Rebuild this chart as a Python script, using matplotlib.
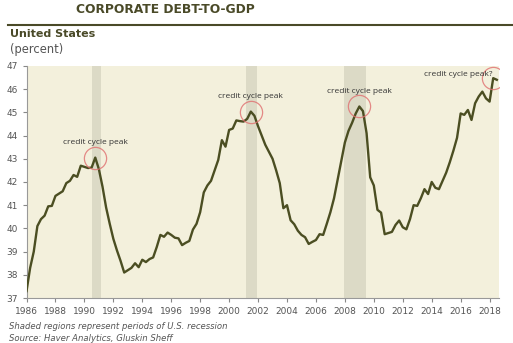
import matplotlib
matplotlib.use('Agg')
import matplotlib.pyplot as plt
import numpy as np

# ── Data (quarterly) ─────────────────────────────────────────────────────────
years = np.arange(1986.0, 2018.51, 0.25)
debt_to_gdp = [
    37.3, 38.3, 39.0, 40.1, 40.4, 40.55, 40.95, 40.97,          # 1986-87
    41.4, 41.5, 41.6, 41.95, 42.05, 42.3, 42.22, 42.7,          # 1988-89
    42.65, 42.6, 42.62, 43.05, 42.55, 41.8, 40.9, 40.2,         # 1990-91
    39.55, 39.05, 38.6, 38.1, 38.2, 38.3, 38.5, 38.33,          # 1992-93
    38.65, 38.55, 38.68, 38.75, 39.2, 39.72, 39.64, 39.82,      # 1994-95
    39.72, 39.6, 39.57, 39.28, 39.38, 39.46, 39.95, 40.2,       # 1996-97
    40.7, 41.55, 41.85, 42.05, 42.5, 42.95, 43.8, 43.52,        # 1998-99
    44.24, 44.3, 44.65, 44.62, 44.6, 44.72, 45.03, 44.85,       # 2000-01
    44.4, 44.0, 43.6, 43.3, 43.0, 42.5, 41.95, 40.87,           # 2002-03
    41.0, 40.35, 40.18, 39.9, 39.72, 39.62, 39.33, 39.42,       # 2004-05
    39.5, 39.75, 39.72, 40.2, 40.7, 41.3, 42.1, 42.9,           # 2006-07
    43.7, 44.2, 44.55, 44.95, 45.25, 45.05, 44.1, 42.2,         # 2008-09
    41.85, 40.8, 40.68, 39.75, 39.8, 39.85, 40.15, 40.34,       # 2010-11
    40.05, 39.96, 40.4, 41.0, 40.97, 41.3, 41.69, 41.48,        # 2012-13
    42.0, 41.75, 41.69, 42.05, 42.4, 42.85, 43.35, 43.9,        # 2014-15
    44.95, 44.89, 45.1, 44.67, 45.39, 45.68, 45.89, 45.6,       # 2016-17
    45.46, 46.47, 46.4,                                         # 2018
]

recessions = [(1990.55, 1991.15), (2001.2, 2001.9), (2007.95, 2009.45)]

peak_x = [1990.75, 2001.5, 2009.0, 2018.25]
peak_y = [43.05, 45.03, 45.25, 46.47]
peak_labels = ['credit cycle peak', 'credit cycle peak', 'credit cycle peak', 'credit cycle peak?']

x_ticks = list(range(1986, 2019, 2))
y_ticks = list(range(37, 48))

# ── Colours ──────────────────────────────────────────────────────────────────
C_BG    = '#f3f0dc'
C_REC   = '#dcdac6'
C_LINE  = '#4b4e22'
C_TITLE = '#4a4a28'
C_TEXT  = '#555555'
C_RING  = '#e07070'

fig = plt.figure(figsize=(5.13, 3.43), dpi=100)
ax = fig.add_axes([0.0517, 0.131, 0.921, 0.677])
ax.set_facecolor(C_BG)

for start, end in recessions:
    ax.axvspan(start, end, color=C_REC, lw=0, zorder=1)

ax.plot(years, debt_to_gdp, color=C_LINE, lw=1.7, zorder=3)

# peak markers and labels
ax.plot(peak_x, peak_y, 'o', ms=16, mfc='none', mec=C_RING, mew=0.9, alpha=0.8, zorder=4)
for i, (px, py, lab) in enumerate(zip(peak_x, peak_y, peak_labels)):
    if i == len(peak_x) - 1:
        ax.text(px - 0.05, py + 0.14, lab, ha='right', va='center', fontsize=6,
                family='Open Sans', color='#333333', zorder=5)
    else:
        ax.text(px, py + 0.5, lab, ha='center', va='bottom', fontsize=6,
                family='Open Sans', color='#333333', zorder=5)

ax.set_xlim(1986, 2018.65)
ax.set_ylim(37, 47)
ax.set_xticks(x_ticks)
ax.set_yticks(y_ticks)
ax.tick_params(axis='both', labelsize=6.5, colors='#888888', labelcolor=C_TEXT,
               length=3, width=0.8, direction='out')
for side in ['top', 'right']:
    ax.spines[side].set_visible(False)
for side in ['left', 'bottom']:
    ax.spines[side].set_color('#999999')
    ax.spines[side].set_linewidth(0.8)

# ── Header and footnotes ─────────────────────────────────────────────────────
fig.text(0.323, 0.971, 'CORPORATE DEBT-TO-GDP', ha='center', va='center',
         fontsize=8.8, fontweight='heavy', color=C_TITLE)
fig.add_artist(plt.Line2D([0.016, 1.0], [0.927, 0.927], color=C_TITLE, lw=1.5))
fig.text(0.02, 0.9, 'United States', ha='left', va='center',
         fontsize=8, fontweight='bold', color=C_TITLE)
fig.text(0.02, 0.857, '(percent)', ha='left', va='center',
         fontsize=8.3, color=C_TEXT)
fig.text(0.018, 0.049, 'Shaded regions represent periods of U.S. recession',
         ha='left', va='center', fontsize=6.1, style='italic', color=C_TEXT)
fig.text(0.018, 0.014, 'Source: Haver Analytics, Gluskin Sheff',
         ha='left', va='center', fontsize=6.1, style='italic', color=C_TEXT)

fig.savefig('out.png', dpi=100)
